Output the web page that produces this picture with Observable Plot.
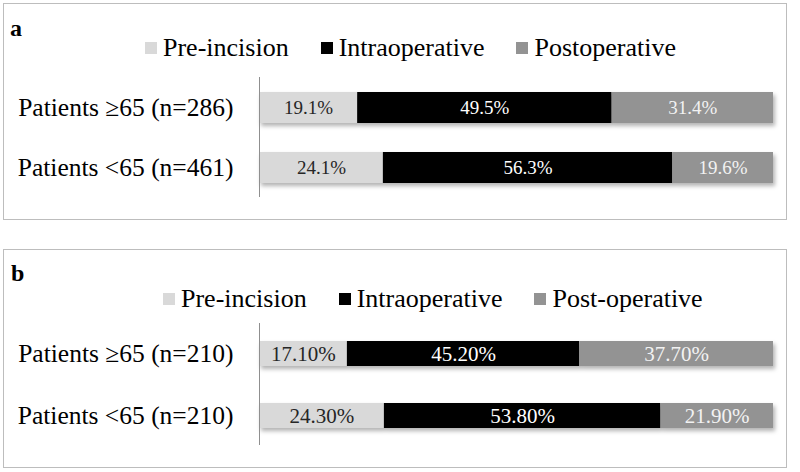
<!DOCTYPE html>
<html><head><meta charset="utf-8">
<script src="https://cdn.jsdelivr.net/npm/d3@7"></script>
<script src="https://cdn.jsdelivr.net/npm/@observablehq/plot@0.6"></script>
<style>
html,body{margin:0;padding:0;background:#fff;}
body{width:800px;height:472px;position:relative;overflow:hidden;font-family:"Liberation Serif",serif;color:#000;}
.panel{position:absolute;left:3px;width:784px;border:1.5px solid #bdbdbd;box-sizing:border-box;}
.tag{position:absolute;font-weight:bold;font-size:24px;line-height:1;}
.legend{position:absolute;display:flex;align-items:center;font-size:26px;line-height:1;white-space:nowrap;}
.legend .sw{display:inline-block;width:12px;height:12px;margin-right:6px;}
.legend .item{display:flex;align-items:center;margin-right:32px;}
.plot{position:absolute;left:0;}
</style></head><body>
<div class="panel" style="top:3px;height:217px"></div>
<div class="panel" style="top:249px;height:219px"></div>
<div class="tag" style="left:10px;top:16px">a</div>
<div class="tag" style="left:11px;top:261px">b</div>
<div id="legA" class="legend" style="left:145px;top:35px"></div>
<div id="legB" class="legend" style="left:163px;top:286px"></div>
<div id="plotA" class="plot" style="top:77px"></div>
<div id="plotB" class="plot" style="top:323px"></div>
<script>
// ---- data ----
const phasesA = ["Pre-incision", "Intraoperative", "Postoperative"];
const phasesB = ["Pre-incision", "Intraoperative", "Post-operative"];
const groupsA = ["Patients ≥65 (n=286)", "Patients <65 (n=461)"];
const groupsB = ["Patients ≥65 (n=210)", "Patients <65 (n=210)"];
const preA = [19.1, 24.1];
const intraA = [49.5, 56.3];
const postA = [31.4, 19.6];
const preB = [17.1, 24.3];
const intraB = [45.2, 53.8];
const postB = [37.7, 21.9];

const fills = ["#d9d9d9", "#000000", "#939393"];
const textFills = ["#262626", "#ffffff", "#f2f2f2"];
const font = "'Liberation Serif', serif";

function buildRows(groups, phases, series, digits) {
  const rows = [];
  groups.forEach((g, gi) => {
    phases.forEach((p, pi) => {
      const v = series[pi][gi];
      rows.push({group: g, phase: p, pi, value: v, label: v.toFixed(digits) + "%"});
    });
  });
  return rows;
}

function legend(el, phases) {
  phases.forEach((p, i) => {
    const item = document.createElement("span");
    item.className = "item";
    const sw = document.createElement("span");
    sw.className = "sw";
    sw.style.background = fills[i];
    item.appendChild(sw);
    item.appendChild(document.createTextNode(p));
    el.appendChild(item);
  });
}

function chart(rows, groups, phases, h, pInner, pOuter, labelSize) {
  const texts = phases.map((p, i) =>
    Plot.text(rows, Plot.stackX({
      x: "value", y: "group", z: "phase",
      text: d => d.phase === p ? d.label : "",
      fill: textFills[i], fontSize: labelSize, fontFamily: font
    }))
  );
  const svg = Plot.plot({
    width: 800, height: h,
    marginTop: 0, marginBottom: 0, marginLeft: 259, marginRight: 27,
    style: {fontFamily: font, background: "transparent", color: "#000", overflow: "visible"},
    x: {domain: [0, 100], axis: null},
    y: {domain: groups, paddingInner: pInner, paddingOuter: pOuter, axis: null},
    color: {domain: phases, range: fills},
    marks: [
      Plot.barX(rows, Plot.stackX({x: "value", y: "group", z: "phase", fill: "phase"})),
      ...texts,
      Plot.axisY({tickSize: 0, tickPadding: 26, fontSize: 25.5, fill: "#000", label: null, fontFamily: font}),
      Plot.ruleX([0], {stroke: "#8f8f8f", strokeWidth: 1})
    ]
  });
  const bars = svg.querySelector('g[aria-label="bar"]');
  if (bars) bars.style.filter = "drop-shadow(2px 3px 2px rgba(0,0,0,0.3))";
  return svg;
}

legend(document.getElementById("legA"), phasesA);
legend(document.getElementById("legB"), phasesB);
document.getElementById("plotA").appendChild(
  chart(buildRows(groupsA, phasesA, [preA, intraA, postA], 1), groupsA, phasesA, 120, 0.49, 0.23, 19));
document.getElementById("plotB").appendChild(
  chart(buildRows(groupsB, phasesB, [preB, intraB, postB], 2), groupsB, phasesB, 122, 0.6, 0.28, 21));
</script>
</body></html>
